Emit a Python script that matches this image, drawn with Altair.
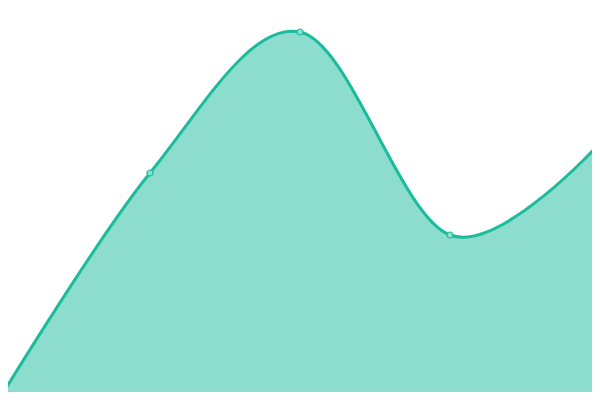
import altair as alt
import pandas as pd

xs = [0, 150, 300, 450, 600]
ys = [2, 227, 368, 165, 257]

df = pd.DataFrame({"x": xs, "y": ys})

xscale = alt.Scale(domain=[8, 592], nice=False, zero=False)
yscale = alt.Scale(domain=[8, 392], nice=False, zero=False)

base = alt.Chart(df).encode(
    x=alt.X("x:Q", scale=xscale, axis=None),
    y=alt.Y("y:Q", scale=yscale, axis=None),
)

area = base.mark_area(
    interpolate="cardinal", color="#1abc9c", fillOpacity=0.5, clip=True,
    line={"color": "#1abc9c", "strokeWidth": 3},
)
pts = base.mark_point(
    shape="circle", size=36, filled=True, fill="#8ddece", stroke="#1abc9c",
    strokeWidth=1.2, opacity=1, clip=True,
)

chart = (area + pts).properties(
    width=584, height=384, padding=0, autosize=alt.AutoSizeParams(type="none")
).configure_view(stroke=None)

chart.save("out.html", embed_options={"renderer": "svg", "actions": False})
